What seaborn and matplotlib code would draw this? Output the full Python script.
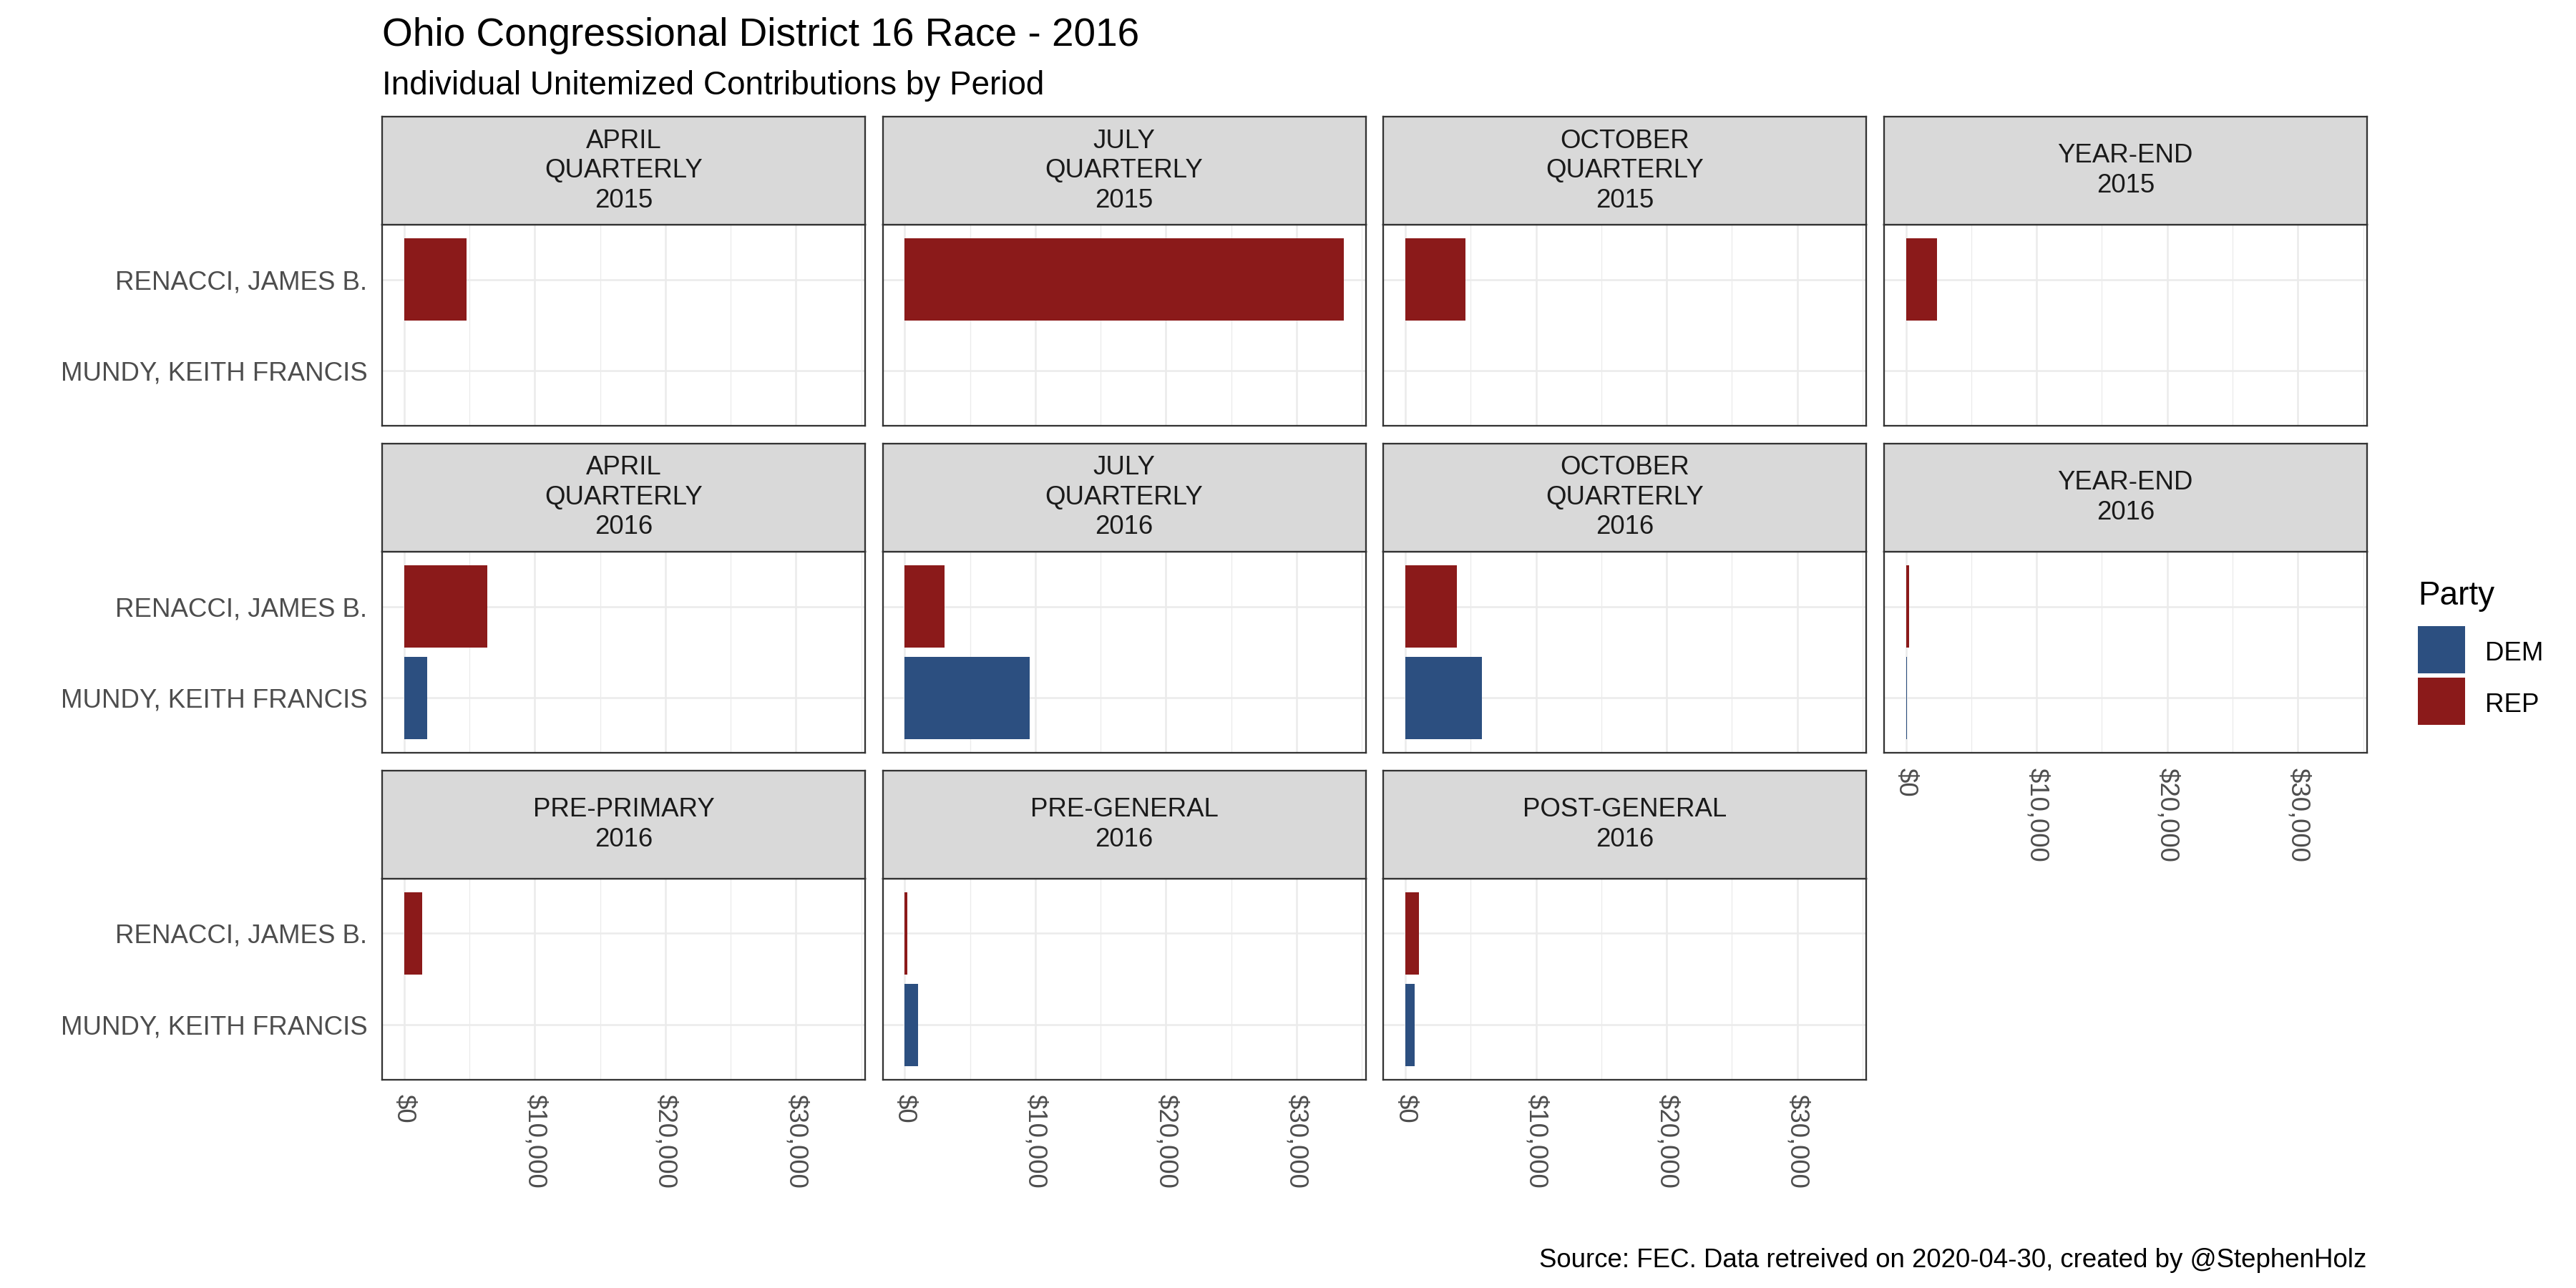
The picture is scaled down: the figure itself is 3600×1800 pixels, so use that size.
import matplotlib
matplotlib.use('Agg')
import matplotlib.pyplot as plt
from matplotlib.patches import Rectangle
from matplotlib.ticker import FixedLocator, FuncFormatter
import numpy as np
import pandas as pd
import seaborn as sns

# dados
periodos = ['APRIL\nQUARTERLY\n2015', 'JULY\nQUARTERLY\n2015', 'OCTOBER\nQUARTERLY\n2015', 'YEAR-END\n2015',
            'APRIL\nQUARTERLY\n2016', 'JULY\nQUARTERLY\n2016', 'OCTOBER\nQUARTERLY\n2016', 'YEAR-END\n2016',
            'PRE-PRIMARY\n2016', 'PRE-GENERAL\n2016', 'POST-GENERAL\n2016']
candidatos = ['RENACCI, JAMES B.', 'MUNDY, KEITH FRANCIS']
partidos = ['REP', 'DEM']
valores_rep = [4800, 33600, 4600, 2400, 6400, 3050, 3950, 220, 1400, 220, 1030]
valores_dem = [np.nan, np.nan, np.nan, np.nan, 1750, 9550, 5850, 80, np.nan, 1030, 730]

cores = {'DEM': '#2C4F80', 'REP': '#8B1A1A'}

linhas = []
for i, p in enumerate(periodos):
    linhas.append({'periodo': p, 'candidato': candidatos[0], 'partido': partidos[0], 'valor': valores_rep[i]})
    linhas.append({'periodo': p, 'candidato': candidatos[1], 'partido': partidos[1], 'valor': valores_dem[i]})
df = pd.DataFrame(linhas).dropna()

sns.set_theme(style='white')
plt.rcParams['font.family'] = ['Liberation Sans', 'DejaVu Sans']

fig = plt.figure(figsize=(12, 6), dpi=300)
fig.patch.set_facecolor('white')

# layout (fracoes da figura)
esq0, larg, passo_x = 0.1483, 0.1875, 0.19435
base0, alt, passo_y = 0.6694, 0.1561, 0.2538
alt_strip = 0.0839
lw = 0.55
cinza20 = '#333333'

xmax = max(df['valor'])
xlim = (-0.05 * xmax, 1.05 * xmax)

def formato_dolar(v, pos):
    return f'${v:,.0f}'

for i, p in enumerate(periodos):
    linha, col = divmod(i, 4)
    esq = esq0 + col * passo_x
    base = base0 - linha * passo_y
    ax = fig.add_axes([esq, base, larg, alt])
    sub = df[df['periodo'] == p]
    sns.barplot(data=sub, x='valor', y='candidato', hue='partido', order=candidatos,
                hue_order=['DEM', 'REP'], palette=cores, width=0.9, dodge=False,
                saturation=1, legend=False, ax=ax, errorbar=None, edgecolor='none', linewidth=0)
    ax.set_xlim(*xlim)
    ax.set_ylim(1.6, -0.6)
    ax.set_facecolor('white')
    ax.set_axisbelow(True)
    ax.xaxis.set_major_locator(FixedLocator([0, 10000, 20000, 30000]))
    ax.xaxis.set_minor_locator(FixedLocator([5000, 15000, 25000, 35000]))
    ax.xaxis.set_major_formatter(FuncFormatter(formato_dolar))
    ax.grid(True, which='major', axis='both', color='#EBEBEB', linewidth=0.6)
    ax.grid(True, which='minor', axis='x', color='#EBEBEB', linewidth=0.3)
    ax.set_xlabel('')
    ax.set_ylabel('')
    for s in ax.spines.values():
        s.set_color(cinza20)
        s.set_linewidth(lw)

    mostra_x = (linha == 2) or (linha == 1 and col == 3)
    mostra_y = col == 0
    ax.tick_params(axis='x', which='minor', length=0)
    ax.tick_params(axis='x', which='major', length=2.75 if mostra_x else 0, width=0.6, color=cinza20,
                   labelbottom=mostra_x, labelsize=8.8, labelcolor='#4D4D4D', pad=2.2)
    ax.tick_params(axis='y', length=2.75 if mostra_y else 0, width=0.6, color=cinza20,
                   labelleft=mostra_y, labelsize=8.8, labelcolor='#4D4D4D', pad=2.2)
    if mostra_x:
        for t in ax.get_xticklabels():
            t.set_rotation(-90)
            t.set_ha('center')
            t.set_va('top')

    # faixa do titulo do painel
    ax_s = fig.add_axes([esq, base + alt, larg, alt_strip])
    ax_s.set_facecolor('#D9D9D9')
    ax_s.set_xticks([])
    ax_s.set_yticks([])
    for s in ax_s.spines.values():
        s.set_color(cinza20)
        s.set_linewidth(lw)
    ax_s.text(0.5, 0.5, p, ha='center', va='center', fontsize=8.8, color='#1A1A1A',
              linespacing=1.24, transform=ax_s.transAxes)

# titulos
fig.text(esq0, 0.9644, 'Ohio Congressional District 16 Race - 2016', fontsize=13.2, color='black',
         ha='left', va='baseline')
fig.text(esq0, 0.9267, 'Individual Unitemized Contributions by Period', fontsize=11, color='black',
         ha='left', va='baseline')
fig.text(esq0 + 3 * passo_x + larg, 0.016, 'Source: FEC. Data retreived on 2020-04-30, created by @StephenHolz',
         fontsize=8.8, color='black', ha='right', va='baseline')

# legenda (montada a mao para acertar as posicoes)
W, H = 3600, 1800
leg_x = 3379 / W
fig.text(leg_x, 1 - 845 / H, 'Party', fontsize=11, color='black', ha='left', va='baseline')
tam_w, tam_h = 66 / W, 66 / H
for k, partido in enumerate(['DEM', 'REP']):
    topo = 875 + k * 72
    fig.patches.append(Rectangle((leg_x, 1 - (topo + 66) / H), tam_w, tam_h, transform=fig.transFigure,
                                 facecolor=cores[partido], edgecolor='none'))
    fig.text(3473 / W, 1 - (topo + 48) / H, partido, fontsize=8.8, color='black', ha='left', va='baseline')

fig.savefig('out.png', dpi=300, facecolor='white')
